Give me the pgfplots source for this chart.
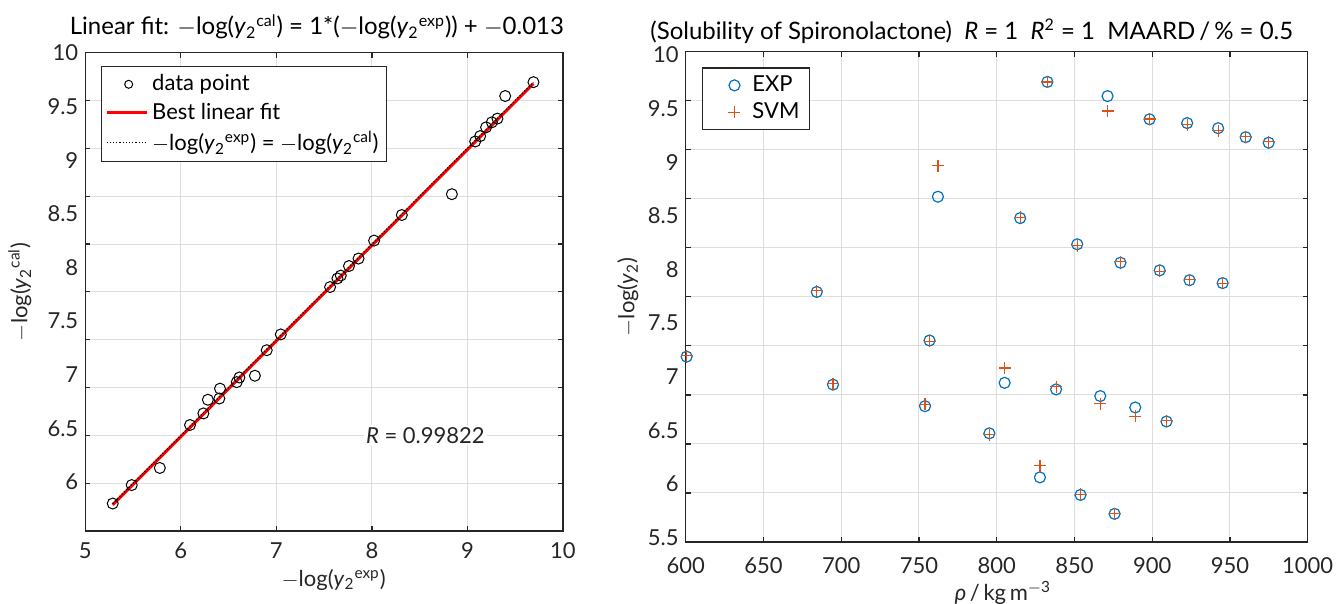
\documentclass[border=0pt]{standalone}
\usepackage{fontspec}
\setmainfont{Lato}
\usepackage{pgfplots}
\usepackage{pgfplotstable}
\pgfplotsset{compat=1.18}

\definecolor{mblue}{RGB}{0,114,189}
\definecolor{morange}{RGB}{217,83,25}
\definecolor{gridc}{RGB}{222,222,222}
\definecolor{axc}{RGB}{38,38,38}

% rho, -log(y2) experimental, -log(y2) SVM
\pgfplotstableread{
rho   exp   svm
600.6 6.890 6.899
684.3 7.550 7.562
694.7 6.605 6.613
753.9 6.385 6.403
756.8 7.055 7.046
762.2 8.521 8.837
795.3 6.108 6.096
805.1 6.623 6.775
815.1 8.303 8.313
827.8 5.659 5.780
832.6 9.692 9.691
838.2 6.556 6.585
851.8 8.036 8.023
853.9 5.480 5.486
866.6 6.488 6.410
871.3 9.547 9.395
875.8 5.287 5.287
879.6 7.848 7.860
889.1 6.372 6.283
898.3 9.311 9.314
904.8 7.770 7.760
909.2 6.229 6.236
922.5 9.272 9.255
924.0 7.670 7.674
942.4 9.220 9.195
945.3 7.640 7.639
960.1 9.128 9.133
974.9 9.072 9.081
}\sol

\newcommand{\mn}{$-$}
\newcommand{\ylog}[1]{\mn log(\textit{y}\textsubscript{2}#1)}

\pgfplotsset{
  mstyle/.style={
    scale only axis,
    axis line style={axc, line width=0.7pt},
    tick style={axc, line width=0.6pt},
    tick align=inside, tick pos=both, major tick length=2.5pt,
    grid=major, major grid style={gridc, line width=0.5pt},
    ymin=5, ymax=10, ytick={5,5.5,...,10}, yticklabels={},
    extra y tick style={grid=none, major tick length=0pt},
    extra y tick labels={5.5,6,6.5,7,7.5,8,8.5,9,9.5,10},
    tick label style={font=\fontsize{11}{13}\selectfont, text=axc},
    /pgf/number format/assume math mode=true,
    /pgf/number format/1000 sep={},
    label style={font=\fontsize{11}{13}\selectfont, text=axc},
    every axis title shift=0pt,
    title style={font=\fontsize{12}{14}\selectfont, text=black},
    legend style={draw=axc, line width=0.6pt, font=\fontsize{11}{13}\selectfont,
      row sep=0.5pt, inner sep=2pt},
    legend cell align=left,
  },
  widelegend/.style={
    legend image code/.code={\path[draw=none, fill=none] (0pt,-1pt) rectangle (20pt,1pt);
      \draw[mark repeat=2,mark phase=2,##1] plot coordinates {(0pt,0pt) (11pt,0pt) (20pt,0pt)};},
  },
  marklegend/.style={
    legend image code/.code={\path[draw=none, fill=none] (0pt,-1pt) rectangle (20pt,1pt);
      \draw[mark repeat=2,mark phase=2,##1] plot coordinates {(0pt,0pt) (13pt,0pt) (20pt,0pt)};},
  },
}

\begin{document}
\begin{tikzpicture}
\useasboundingbox (0,0) rectangle (670pt,302pt);

\begin{axis}[mstyle, widelegend,
  at={(42.65pt,36.5pt)}, anchor=south west,
  width=238.85pt, height=239.15pt,
  xmin=5, xmax=10, xtick={5,6,...,10},
  xticklabel style={yshift=-2.5pt},
  extra y ticks={4.95,5.511,6.072,6.633,7.194,7.756,8.317,8.878,9.439,10.0},
  title={Linear fit: \ylog{\textsuperscript{cal}} = 1*(\ylog{\textsuperscript{exp}}) + \mn 0.013},
  title style={at={(axis description cs:0.485,1.054)}, anchor=center},
  xlabel={\ylog{\textsuperscript{exp}}},
  xlabel style={at={(axis description cs:0.52,-0.102)}, anchor=center},
  ylabel={\ylog{\textsuperscript{cal}}},
  ylabel style={at={(axis description cs:-0.137,0.5)}, anchor=center},
  legend style={at={(axis description cs:0.032,0.972)}, anchor=north west},
]
\addplot[only marks, mark=o, mark size=2.75pt, black, mark options={line width=0.5pt},
  widelegend, legend image post style={mark size=2pt}]
  table[x=svm, y=exp] {\sol};
\addlegendentry{data point}
\addplot[red, line width=1.5pt] coordinates {(5.287,5.274) (9.691,9.678)};
\addlegendentry{Best linear fit}
\addplot[black, densely dotted, line width=0.6pt] coordinates {(5.287,5.287) (9.691,9.691)};
\addlegendentry{\ylog{\textsuperscript{exp}} = \ylog{\textsuperscript{cal}}}
\node[fill=white, inner sep=1pt, font=\fontsize{11}{13}\selectfont, text=axc]
  at (axis cs:8.56,6.0) {\textit{R} = 0.99822};
\end{axis}

\begin{axis}[mstyle,
  at={(342.85pt,31pt)}, anchor=south west,
  width=311pt, height=245.15pt,
  xmin=600, xmax=1000, xtick={600,650,...,1000},
  xticklabel style={yshift=-4pt},
  extra y ticks={5.044,5.591,6.138,6.685,7.232,7.778,8.325,8.872,9.419,9.966},
  title={(Solubility of Spironolactone)\ \ \textit{R} = 1\ \ \textit{R}\textsuperscript{2} = 1\ \ MAARD\,/\,\% = 0.5},
  title style={at={(axis description cs:0.46,1.042)}, anchor=center},
  xlabel={\textit{ρ}\,/\,kg\,m\textsuperscript{\mn3}},
  xlabel style={at={(axis description cs:0.51,-0.104)}, anchor=center},
  ylabel={\ylog{}},
  ylabel style={at={(axis description cs:-0.093,0.5)}, anchor=center},
  legend style={at={(axis description cs:0.026,0.968)}, anchor=north west,
    row sep=0pt, inner ysep=2pt, inner xsep=3pt},
]
\addplot[only marks, mark=o, mark size=2.75pt, mblue, mark options={line width=0.6pt}, marklegend]
  table[x=rho, y=exp] {\sol};
\addlegendentry{EXP}
\addplot[only marks, mark=+, mark size=3pt, morange, mark options={line width=0.6pt}, marklegend]
  table[x=rho, y=svm] {\sol};
\addlegendentry{SVM}
\end{axis}
\end{tikzpicture}
\end{document}
